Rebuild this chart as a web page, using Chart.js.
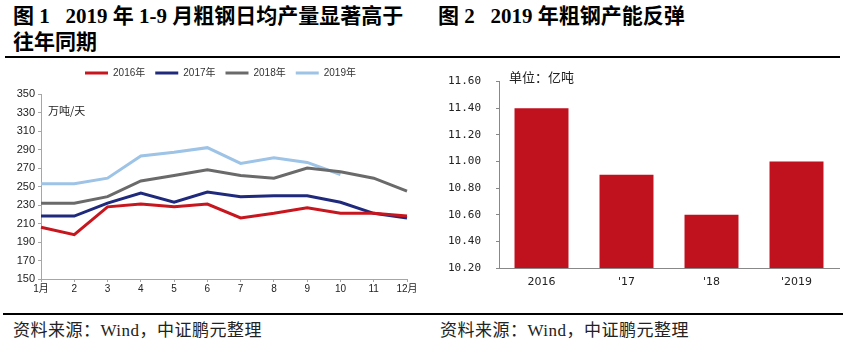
<!DOCTYPE html>
<html>
<head>
<meta charset="utf-8">
<script src="https://cdn.jsdelivr.net/npm/chart.js@4.4.1/dist/chart.umd.min.js"></script>
<style>
  body { margin: 0; background: #fff; width: 844px; height: 339px; position: relative; overflow: hidden; }
  .abs { position: absolute; }
  .title { font: bold 21px "Liberation Serif", "Noto Sans CJK SC", serif; line-height: 26px; color: #000; white-space: nowrap; }
  .rule { background: #000; height: 2px; }
  .src { font: 17px "Liberation Serif", "Noto Sans CJK SC", serif; letter-spacing: 0.5px; color: #222; white-space: nowrap; }
  .unit { font: 11px "Noto Sans CJK SC", sans-serif; color: #222; white-space: nowrap; }
</style>
</head>
<body>
<div class="abs title" style="left:13px;top:3px;">图 1&nbsp;&nbsp;&nbsp;2019 年 1-9 月粗钢日均产量显著高于<br>往年同期</div>
<div class="abs title" style="left:438px;top:3px;">图 2&nbsp;&nbsp;&nbsp;2019 年粗钢产能反弹</div>
<div class="abs rule" style="left:5px;top:56px;width:835px;"></div>

<canvas id="left" class="abs" style="left:0;top:60px;" width="420" height="240"></canvas>
<canvas id="right" class="abs" style="left:430px;top:60px;" width="414" height="240"></canvas>
<div class="abs unit" style="left:48px;top:102px;">万吨/天</div>
<div class="abs unit" style="left:509px;top:67px;font-size:13px;">单位：亿吨</div>

<div class="abs rule" style="left:3px;top:313px;width:840px;"></div>
<div class="abs src" style="left:13px;top:316px;">资料来源：Wind，中证鹏元整理</div>
<div class="abs src" style="left:440px;top:316px;">资料来源：Wind，中证鹏元整理</div>

<script>
// left chart: daily crude steel output, 万吨/天
const months = ['1月', '2', '3', '4', '5', '6', '7', '8', '9', '10', '11', '12月'];
const y2016 = [206, 198, 228, 231, 228, 231, 216, 221, 227, 221, 221, 218];
const y2017 = [218, 218, 232, 243, 233, 244, 239, 240, 240, 233, 221, 216];
const y2018 = [232, 232, 239, 256, 262, 268, 262, 259, 270, 266, 259, 245];
const y2019 = [253, 253, 259, 283, 287, 292, 275, 281, 276, 263];

// right chart: crude steel capacity, 亿吨
const years = ['2016', "'17", "'18", "'2019"];
const capacity = [11.40, 10.90, 10.60, 11.00];

const axisGray = '#a6a6a6';
const tickFont = { family: 'Liberation Sans, Arial, sans-serif', size: 11 };

function line(label, data, color) {
  return {
    label: label, data: data,
    borderColor: color, backgroundColor: color,
    borderWidth: 3, pointRadius: 0, tension: 0
  };
}

// legend in the reference sits a bit right of centre and close to the top
const legendShift = {
  id: 'legendShift',
  afterLayout(chart) {
    chart.legend.left += 17;
    chart.legend.right += 17;
    chart.legend.top -= 6;
    chart.legend.bottom -= 6;
  }
};

new Chart(document.getElementById('left'), {
  type: 'line',
  data: {
    labels: months,
    datasets: [
      line('2016年', y2016, '#c8161e'),
      line('2017年', y2017, '#1f2a7c'),
      line('2018年', y2018, '#6a6a6a'),
      line('2019年', y2019, '#9dc3e6')
    ]
  },
  plugins: [legendShift],
  options: {
    responsive: false,
    animation: false,
    layout: { padding: { left: 0, right: 13, top: 4, bottom: 0 } },
    plugins: {
      tooltip: { enabled: false },
      legend: {
        position: 'top',
        labels: {
          usePointStyle: true, pointStyle: 'line', pointStyleWidth: 23,
          padding: 10, color: '#333',
          font: { family: 'Liberation Sans, Arial, "Noto Sans CJK SC", sans-serif', size: 10 }
        }
      }
    },
    scales: {
      x: {
        offset: false,
        grid: { drawOnChartArea: false, tickLength: 3, color: axisGray },
        border: { color: axisGray },
        ticks: { autoSkip: false, maxRotation: 0, padding: 1, color: '#222',
          font: { family: 'Liberation Sans, Arial, "Noto Sans CJK SC", sans-serif', size: 10 } },
        afterFit: s => { s.height = 21; }
      },
      y: {
        min: 150, max: 350,
        grid: { drawOnChartArea: false, tickLength: 3, color: axisGray },
        border: { color: axisGray },
        ticks: { stepSize: 20, padding: 3, color: '#222', font: tickFont },
        afterFit: s => { s.width = 41; }
      }
    }
  }
});

new Chart(document.getElementById('right'), {
  type: 'bar',
  data: {
    labels: years,
    datasets: [{
      label: '粗钢产能', data: capacity,
      backgroundColor: '#c0111f',
      categoryPercentage: 1, barPercentage: 0.635
    }]
  },
  options: {
    responsive: false,
    animation: false,
    layout: { padding: { left: 0, right: 5, top: 21, bottom: 0 } },
    plugins: { legend: { display: false }, tooltip: { enabled: false } },
    scales: {
      x: {
        grid: { display: false, drawTicks: false },
        border: { color: '#888' },
        ticks: { padding: 8, color: '#222',
          font: { family: 'DejaVu Sans, sans-serif', size: 11 } },
        afterFit: s => { s.height = 32; }
      },
      y: {
        min: 10.2, max: 11.6,
        grid: { drawOnChartArea: false, tickLength: 3, color: '#888' },
        border: { color: '#888' },
        ticks: { stepSize: 0.2, padding: 15, color: '#222',
          font: { family: 'DejaVu Sans Mono, monospace', size: 11 },
          callback: v => v.toFixed(2) },
        afterFit: s => { s.width = 69; }
      }
    }
  }
});
</script>
</body>
</html>
